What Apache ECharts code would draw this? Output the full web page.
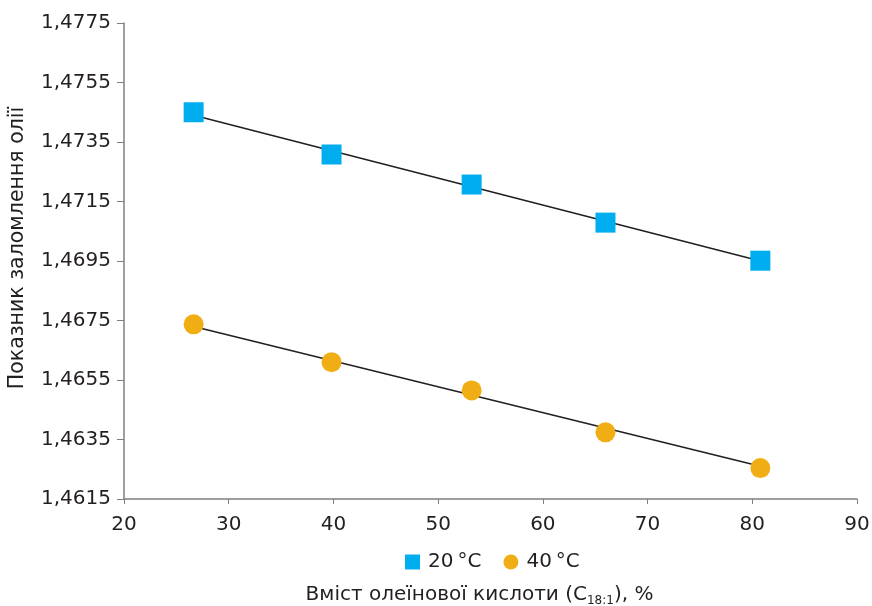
<!DOCTYPE html>
<html>
<head>
<meta charset="utf-8">
<script src="https://cdn.jsdelivr.net/npm/echarts@6/dist/echarts.min.js"></script>
<style>
html,body{margin:0;padding:0;background:#fff;}
#c{width:872px;height:606px;}
</style>
</head>
<body>
<div id="c"></div>
<script>
// Data
const oleicX = [26.65, 39.82, 53.2, 65.98, 80.77];
const ri20 = [1.4745, 1.47308, 1.47207, 1.47079, 1.46951];
const ri40 = [1.46737, 1.46610, 1.46515, 1.46374, 1.46254];
// trend line endpoints (x, y)
const trendX = [26.65, 80.77];
const trend20 = [1.4744, 1.4695];
const trend40 = [1.4673, 1.4626];
const yTicks = [1.4615, 1.4635, 1.4655, 1.4675, 1.4695, 1.4715, 1.4735, 1.4755, 1.4775];
const xTicks = [20, 30, 40, 50, 60, 70, 80, 90];
const seriesNames = ['20\u2009°C', '40\u2009°C'];

const FONT = '"DejaVu Sans", sans-serif';
const TXT = '#231f20';
const AX = '#7f7f7f';

const pairs = (xs, ys) => xs.map((x, i) => [x, ys[i]]);

const chart = echarts.init(document.getElementById('c'), null, {renderer: 'canvas'});
chart.setOption({
  animation: false,
  backgroundColor: '#fff',
  textStyle: {fontFamily: FONT},
  grid: {left: 124, right: 15, top: 23, bottom: 107, containLabel: false, outerBoundsMode: 'none'},
  legend: {
    data: [
      {name: seriesNames[0], icon: 'rect'},
      {name: seriesNames[1], icon: 'circle'}
    ],
    left: 400,
    top: 547,
    itemWidth: 15,
    itemHeight: 15,
    itemGap: 22,
    textStyle: {fontFamily: FONT, fontSize: 20, color: TXT, padding: [0, 0, 0, 3]}
  },
  xAxis: {
    type: 'value',
    min: xTicks[0],
    max: xTicks[xTicks.length - 1],
    interval: 10,
    name: '{a|Вміст олеїнової кислоти (C}{s|18:1}{a|), %}',
    nameLocation: 'middle',
    nameGap: 84,
    nameTextStyle: {
      padding: [0, 22, 0, 0],
      rich: {
        a: {fontFamily: FONT, fontSize: 20, color: TXT},
        s: {fontFamily: FONT, fontSize: 12, color: TXT, verticalAlign: 'bottom', padding: [12, 0, 0, 0]}
      }
    },
    axisLine: {show: true, lineStyle: {color: AX, width: 1.5}},
    axisTick: {show: true, length: 5, lineStyle: {color: AX, width: 1}},
    axisLabel: {fontFamily: FONT, fontSize: 20, color: TXT, margin: 16},
    splitLine: {show: false}
  },
  yAxis: {
    type: 'value',
    min: yTicks[0],
    max: yTicks[yTicks.length - 1],
    name: 'Показник заломлення олії',
    nameLocation: 'middle',
    nameRotate: 90,
    nameGap: 96,
    nameTextStyle: {fontFamily: FONT, fontSize: 20.5, color: TXT, padding: [0, 0, 0, 26]},
    axisLine: {show: true, lineStyle: {color: AX, width: 1.5}},
    axisTick: {show: true, length: 7, customValues: yTicks, lineStyle: {color: AX, width: 1}},
    axisLabel: {
      fontFamily: FONT, fontSize: 20, color: TXT, margin: 13,
      customValues: yTicks,
      formatter: v => v.toFixed(4).replace('.', ',')
    },
    splitLine: {show: false}
  },
  series: [
    {
      name: 'trend20', type: 'line', data: pairs(trendX, trend20),
      symbol: 'none', lineStyle: {color: '#231f20', width: 1.6}, z: 1, silent: true
    },
    {
      name: 'trend40', type: 'line', data: pairs(trendX, trend40),
      symbol: 'none', lineStyle: {color: '#231f20', width: 1.6}, z: 1, silent: true
    },
    {
      name: seriesNames[0], type: 'scatter', data: pairs(oleicX, ri20),
      symbol: 'rect', symbolSize: 20, itemStyle: {color: '#00aeef', opacity: 1}, z: 3
    },
    {
      name: seriesNames[1], type: 'scatter', data: pairs(oleicX, ri40),
      symbol: 'circle', symbolSize: 20, itemStyle: {color: '#f0ae14', opacity: 1}, z: 3
    }
  ]
});
</script>
</body>
</html>
